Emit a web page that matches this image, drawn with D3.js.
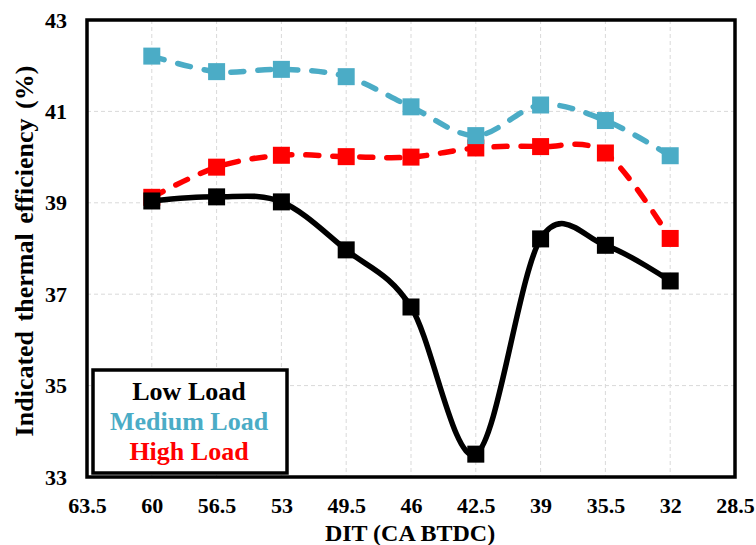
<!DOCTYPE html>
<html>
<head>
<meta charset="utf-8">
<script src="https://cdn.jsdelivr.net/npm/d3@7"></script>
</head>
<body style="margin:0;background:#fff">
<svg id="chart" width="756" height="545" style="display:block"></svg>
<script>
// Injection timing (CA BTDC) and indicated thermal efficiency (%) per load
const dit = [60, 56.5, 53, 49.5, 46, 42.5, 39, 35.5, 32];
const lowLoad = [39.04, 39.13, 39.02, 37.97, 36.72, 33.5, 38.21, 38.07, 37.29];
const mediumLoad = [42.21, 41.87, 41.92, 41.76, 41.1, 40.47, 41.14, 40.8, 40.03];
const highLoad = [39.12, 39.78, 40.04, 40.01, 40.0, 40.2, 40.23, 40.09, 38.22];
const xTicks = [63.5, 60, 56.5, 53, 49.5, 46, 42.5, 39, 35.5, 32, 28.5];
const yTicks = [33, 35, 37, 39, 41, 43];

const FONT = '"Liberation Serif"';

const svg = d3.select("#chart");
const m = { left: 87, top: 20, right: 735, bottom: 477 };

const x = d3.scaleLinear().domain([63.5, 28.5]).range([m.left, m.right]);
const y = d3.scaleLinear().domain([33, 43]).range([m.bottom, m.top]);

function serif(sel, size) {
  return sel.attr("font-family", FONT)
    .attr("font-weight", "bold")
    .attr("font-size", size);
}

// Gridlines
const grid = svg.append("g");
grid.selectAll("line.v").data(xTicks.slice(1, -1)).join("line")
  .attr("x1", d => x(d)).attr("x2", d => x(d))
  .attr("y1", m.top).attr("y2", m.bottom)
  .attr("stroke", "#d9d9d9").attr("stroke-width", 1).attr("stroke-dasharray", "4,3");
grid.selectAll("line.h").data(yTicks.slice(1, -1)).join("line")
  .attr("y1", d => y(d)).attr("y2", d => y(d))
  .attr("x1", m.left).attr("x2", m.right)
  .attr("stroke", "#d9d9d9").attr("stroke-width", 1).attr("stroke-dasharray", "4,3");

// Axes (tick labels only; frame drawn separately)
function styleTicks(g) {
  g.select(".domain").remove();
  g.attr("font-family", null).attr("font-size", null);
  serif(g.selectAll("text"), 22).attr("fill", "#000");
}
svg.append("g")
  .attr("transform", `translate(0,${m.bottom})`)
  .call(d3.axisBottom(x).tickValues(xTicks).tickSize(0).tickPadding(20).tickFormat(d => String(d)))
  .call(styleTicks);

svg.append("g")
  .attr("transform", `translate(${m.left},0)`)
  .call(d3.axisLeft(y).tickValues(yTicks).tickSize(0).tickPadding(20).tickFormat(d3.format("d")))
  .call(styleTicks);

// Series
const series = [
  { values: highLoad, color: "#ff0000", dash: "13,14" },
  { values: mediumLoad, color: "#4bacc6", dash: "13,14" },
  { values: lowLoad, color: "#000000", dash: null }
];

const line = d3.line()
  .x(d => x(d[0])).y(d => y(d[1]))
  .curve(d3.curveCatmullRom.alpha(0));

const ms = 17;
series.forEach(s => {
  const pts = dit.map((d, i) => [d, s.values[i]]);
  const path = svg.append("path").datum(pts)
    .attr("d", line)
    .attr("fill", "none")
    .attr("stroke", s.color)
    .attr("stroke-width", 5.5)
    .attr("stroke-linecap", "round")
    .attr("stroke-linejoin", "round");
  if (s.dash) path.attr("stroke-dasharray", s.dash);
  svg.append("g").selectAll("rect").data(pts).join("rect")
    .attr("x", d => x(d[0]) - ms / 2)
    .attr("y", d => y(d[1]) - ms / 2)
    .attr("width", ms).attr("height", ms)
    .attr("fill", s.color);
});

// Plot frame
svg.append("rect")
  .attr("x", m.left).attr("y", m.top)
  .attr("width", m.right - m.left).attr("height", m.bottom - m.top)
  .attr("fill", "none").attr("stroke", "#000").attr("stroke-width", 3.5);

// Legend
const lg = svg.append("g");
lg.append("rect")
  .attr("x", 93).attr("y", 370).attr("width", 194).attr("height", 103)
  .attr("fill", "#fff").attr("stroke", "#000").attr("stroke-width", 3.5);
const legendItems = [
  { label: "Low Load", color: "#000000" },
  { label: "Medium Load", color: "#4bacc6" },
  { label: "High Load", color: "#ff0000" }
];
serif(lg.selectAll("text").data(legendItems).join("text"), 26)
  .attr("x", 189).attr("y", (d, i) => 400 + i * 30)
  .attr("text-anchor", "middle")
  .attr("fill", d => d.color)
  .text(d => d.label);

// Axis titles
serif(svg.append("text"), 24)
  .attr("x", 410).attr("y", 541)
  .attr("text-anchor", "middle")
  .attr("fill", "#000")
  .text("DIT (CA BTDC)");
serif(svg.append("text"), 26)
  .attr("transform", `translate(33,251) rotate(-90)`)
  .attr("text-anchor", "middle")
  .attr("word-spacing", 3)
  .attr("fill", "#000")
  .text("Indicated thermal efficiency (%)");
</script>
</body>
</html>
